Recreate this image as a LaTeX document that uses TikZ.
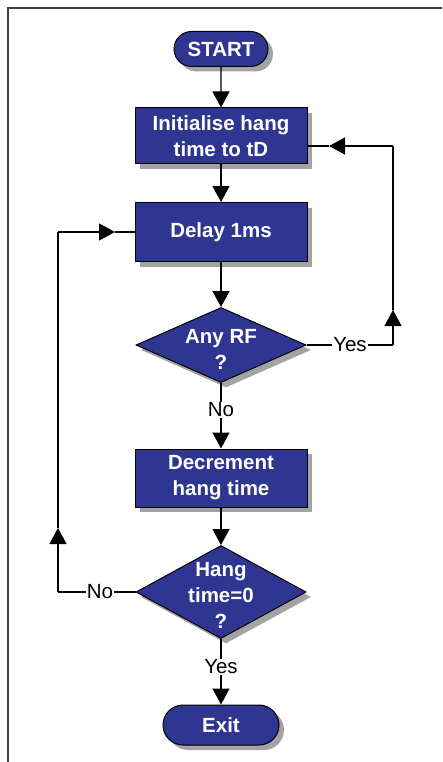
\documentclass[tikz,border=0pt]{standalone}
\usepackage{fontspec}
\setmainfont{Liberation Sans}
\usetikzlibrary{shapes.geometric,shapes.misc,shadows,arrows.meta}
\definecolor{chartblue}{RGB}{46,54,145}

\begin{document}
\begin{tikzpicture}[x=1pt,y=-1pt,
                box/.style={draw=black,line width=1pt,fill=chartblue,text=white,
                        font=\bfseries\fontsize{20.5}{26}\selectfont,align=center,
                        drop shadow={shadow xshift=5pt,shadow yshift=-5pt,fill=black!40,opacity=.9}},
                term node/.style={box,rounded rectangle,inner sep=0pt},
                proc node/.style={box,rectangle,minimum width=172pt,inner sep=0pt},
                dec node/.style={box,diamond,inner sep=0pt},
                dec text/.style={text=white,font=\bfseries\fontsize{20.5}{26}\selectfont,align=center},
                lbl/.style={font=\fontsize{20.5}{24}\selectfont,inner sep=1pt},
                arr/.style={-{Triangle[width=17pt,length=16pt]}},
                line/.style={line width=1.3pt},
                ]
                \def\X{221}
                \useasboundingbox (0,0) rectangle (442,762);
                \draw[gray!50!black,line width=2pt] (442,8) -- (8,8) -- (8,762);

                \node[term node,minimum width=94pt,minimum height=35pt] (start) at (\X,49) {START};
                \node[proc node,minimum height=56pt] (init) at (\X,136) {Initialise hang\\time to tD};
                \node[proc node,minimum height=59pt] (delay) at (\X,232) {Delay 1ms};
                \node[dec node,minimum width=170pt,minimum height=75pt] (anyrf) at (\X,345) {};
                \node[dec text] (anyrftext) at (\X,349) {Any RF\\?};
                \node[lbl] (no1) at (\X,410) {No};
                \node[proc node,minimum height=58pt] (decr) at (\X,478) {Decrement\\hang time};
                \node[dec node,minimum width=170pt,minimum height=93pt] (hang) at (\X,592) {};
                \node[dec text] (hangtext) at (\X,595) {Hang\\time=0\\?};
                \node[lbl] (yes2) at (\X,667) {Yes};
                \node[term node,minimum width=116pt,minimum height=40pt] (exit) at (\X,725) {Exit};
                \node[lbl] (yes1) at (350,345) {Yes};
                \node[lbl] (no2) at (100,592) {No};

                \coordinate (ra) at (393,345);
                \coordinate (rup) at (393,310);
                \coordinate (rtop) at (393,146);
                \coordinate (rin) at (329,146);
                \coordinate (la) at (58,592);
                \coordinate (lup) at (58,528);
                \coordinate (ltop) at (58,232);
                \coordinate (lin) at (115,232);

                \draw[line,arr] (start) -- (init);
                \draw[line,arr] (init) -- (delay);
                \draw[line,arr] (delay) -- (anyrf);
                \draw[line] (anyrf) -- (no1);
                \draw[line,arr] (no1) -- (decr);
                \draw[line,arr] (decr) -- (hang);
                \draw[line] (hang) -- (yes2);
                \draw[line,arr] (yes2) -- (exit);

                % Yes loop back to the start
                \draw[line] (anyrf.east) -- (yes1) -- (ra);
                \draw[line,arr] (ra) -- (rup);
                \draw[line] (rup) -- (rtop);
                \draw[line,arr] (rtop) -- (rin);
                \draw[line] (rin) -- (init.east |- rin);

                % No loop back to the delay
                \draw[line] (hang.west) -- (no2) -- (la);
                \draw[line,arr] (la) -- (lup);
                \draw[line] (lup) -- (ltop);
                \draw[line,arr] (ltop) -- (lin);
                \draw[line] (lin) -- (delay.west);
            \end{tikzpicture}
\end{document}
